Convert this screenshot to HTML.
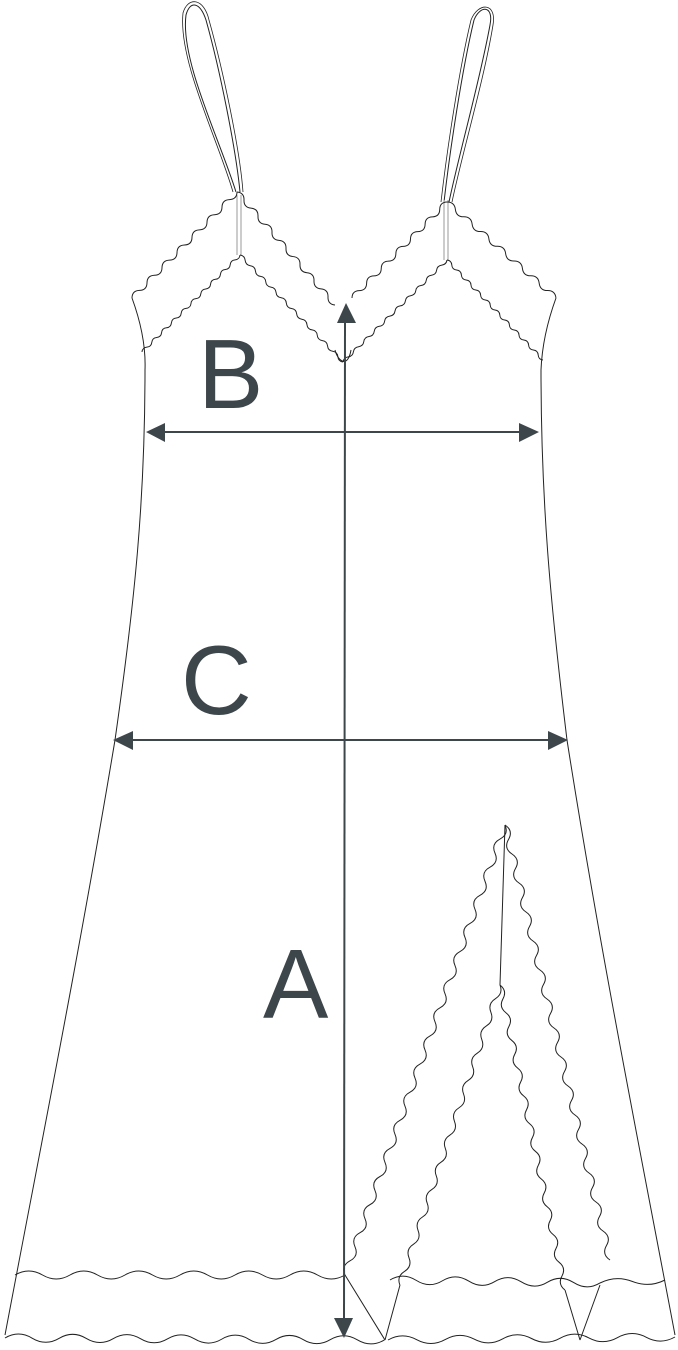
<!DOCTYPE html>
<html><head><meta charset="utf-8"><style>html,body{margin:0;padding:0;background:#fff}svg{display:block}</style></head>
<body>
<svg width="678" height="1350" viewBox="0 0 678 1350" xmlns="http://www.w3.org/2000/svg">
<g fill="none" stroke="#222" stroke-width="1">
<path d="M236,192 C220,140 180,60 186,15 C190,0 200,2 206,20 C220,70 236,150 240,192" />
<path d="M233,192 C218,140 178,60 183,13 C188,-4 204,-2 209,20 C223,70 240,150 243,192" stroke-width="0.8"/>
<path d="M449,202 C460,150 480,80 490,25 C494,5 480,5 474,20 C462,70 450,150 444,202" />
<path d="M452,202 C463,150 484,80 493,25 C497,2 478,2 471,20 C459,70 447,150 441,202" stroke-width="0.8"/>
<line x1="237" y1="195" x2="237" y2="255" stroke="#999"/><line x1="241" y1="195" x2="241" y2="255" stroke="#999"/>
<line x1="444" y1="200" x2="444" y2="260" stroke="#999"/><line x1="448" y1="200" x2="448" y2="260" stroke="#999"/>
<path d="M132,298 C140,320 146,345 145,370 C145,500 135,600 115,740 C80,950 40,1150 5,1335"/>
<path d="M556,298 C548,320 542,345 541,370 C541,500 550,600 567,740 C600,950 640,1150 675,1335"/>
<path d="M345,1275 L385,1340 M600,1285 L580,1340 M400,1285 L385,1340 M565,1290 L580,1340"/>
<path d="M505,825 L500,985"/>
<path d="M335,350 C338,362 348,368 351,350" />
<!-- scallops -->
<path d="M132,298 q0.15,-7.3 7.5,-7.57 t7.5,-7.57 t7.5,-7.57 t7.5,-7.57 t7.5,-7.57 t7.5,-7.57 t7.5,-7.57 t7.5,-7.57 t7.5,-7.57 t7.5,-7.57 t7.5,-7.57 t7.5,-7.57 t7.5,-7.57 t7.5,-7.57"/>
<path d="M237,192 q7.3,0.73 7,8.07 t7,8.07 t7,8.07 t7,8.07 t7,8.07 t7,8.07 t7,8.07 t7,8.07 t7,8.07 t7,8.07 t7,8.07 t7,8.07 t7,8.07 t7,8.07"/>
<path d="M352,298 q0.15,-7.2 7.31,-7.38 t7.31,-7.38 t7.31,-7.38 t7.31,-7.38 t7.31,-7.38 t7.31,-7.38 t7.31,-7.38 t7.31,-7.38 t7.31,-7.38 t7.31,-7.38 t7.31,-7.38 t7.31,-7.38 t7.31,-7.38"/>
<path d="M447,202 q7.5,-0.06 8.38,7.38 t8.38,7.38 t8.38,7.38 t8.38,7.38 t8.38,7.38 t8.38,7.38 t8.38,7.38 t8.38,7.38 t8.38,7.38 t8.38,7.38 t8.38,7.38 t8.38,7.38 t8.38,7.38"/>
<path d="M142,352 q0.45,-4.4 4.9,-4.85 t4.9,-4.85 t4.9,-4.85 t4.9,-4.85 t4.9,-4.85 t4.9,-4.85 t4.9,-4.85 t4.9,-4.85 t4.9,-4.85 t4.9,-4.85 t4.9,-4.85 t4.9,-4.85 t4.9,-4.85 t4.9,-4.85 t4.9,-4.85 t4.9,-4.85 t4.9,-4.85 t4.9,-4.85 t4.9,-4.85 t4.9,-4.85"/>
<path d="M240,255 q4.7,0.7 5.15,5.35 t5.15,5.35 t5.15,5.35 t5.15,5.35 t5.15,5.35 t5.15,5.35 t5.15,5.35 t5.15,5.35 t5.15,5.35 t5.15,5.35 t5.15,5.35 t5.15,5.35 t5.15,5.35 t5.15,5.35 t5.15,5.35 t5.15,5.35 t5.15,5.35 t5.15,5.35 t5.15,5.35 t5.15,5.35"/>
<path d="M343,362 q0.6,-4.5 5.2,-5.1 t5.2,-5.1 t5.2,-5.1 t5.2,-5.1 t5.2,-5.1 t5.2,-5.1 t5.2,-5.1 t5.2,-5.1 t5.2,-5.1 t5.2,-5.1 t5.2,-5.1 t5.2,-5.1 t5.2,-5.1 t5.2,-5.1 t5.2,-5.1 t5.2,-5.1 t5.2,-5.1 t5.2,-5.1 t5.2,-5.1 t5.2,-5.1"/>
<path d="M447,260 q4.5,0.5 4.8,5 t4.8,5 t4.8,5 t4.8,5 t4.8,5 t4.8,5 t4.8,5 t4.8,5 t4.8,5 t4.8,5 t4.8,5 t4.8,5 t4.8,5 t4.8,5 t4.8,5 t4.8,5 t4.8,5 t4.8,5 t4.8,5 t4.8,5"/>
<path d="M15,1275 q13.75,-8 27.5,0 t27.5,0 t27.5,0 t27.5,0 t27.5,0 t27.5,0 t27.5,0 t27.5,0 t27.5,0 t27.5,0 t27.5,0 t27.5,0"/>
<path d="M5,1338 q13.5,-8 27.1,0.14 t27.1,0.14 t27.1,0.14 t27.1,0.14 t27.1,0.14 t27.1,0.14 t27.1,0.14 t27.1,0.14 t27.1,0.14 t27.1,0.14 t27.1,0.14 t27.1,0.14 t27.1,0.14 t27.1,0.14"/>
<path d="M388,1340 q14.3,-8 28.7,-0.3 t28.7,-0.3 t28.7,-0.3 t28.7,-0.3 t28.7,-0.3 t28.7,-0.3 t28.7,-0.3 t28.7,-0.3 t28.7,-0.3 t28.7,-0.3"/>
<path d="M390,1280 q13,-8 26.25,0.37 t26.25,0.37 t26.25,0.37 t26.25,0.37 t26.25,0.37 t26.25,0.37 t26.25,0.37 t26.25,0.37"/>
<path d="M600,1283 q16,-8 32.5,-1.5 t32.5,-1.5"/>
<path d="M505,825 q4.1,9.3 -5,14.06 t-5,14.06 t-5,14.06 t-5,14.06 t-5,14.06 t-5,14.06 t-5,14.06 t-5,14.06 t-5,14.06 t-5,14.06 t-5,14.06 t-5,14.06 t-5,14.06 t-5,14.06 t-5,14.06 t-5,14.06 t-5,14.06 t-5,14.06 t-5,14.06 t-5,14.06 t-5,14.06 t-5,14.06 t-5,14.06 t-5,14.06 t-5,14.06 t-5,14.06 t-5,14.06 t-5,14.06 t-5,14.06 t-5,14.06 t-5,14.06 t-5,14.06"/>
<path d="M505,825 q8.55,5.65 3.5,14.5 t3.5,14.5 t3.5,14.5 t3.5,14.5 t3.5,14.5 t3.5,14.5 t3.5,14.5 t3.5,14.5 t3.5,14.5 t3.5,14.5 t3.5,14.5 t3.5,14.5 t3.5,14.5 t3.5,14.5 t3.5,14.5 t3.5,14.5 t3.5,14.5 t3.5,14.5 t3.5,14.5 t3.5,14.5 t3.5,14.5 t3.5,14.5 t3.5,14.5 t3.5,14.5 t3.5,14.5 t3.5,14.5 t3.5,14.5 t3.5,14.5 t3.5,14.5 t3.5,14.5"/>
<path d="M500,985 q3.4,8.7 -4.55,13.64 t-4.55,13.64 t-4.55,13.64 t-4.55,13.64 t-4.55,13.64 t-4.55,13.64 t-4.55,13.64 t-4.55,13.64 t-4.55,13.64 t-4.55,13.64 t-4.55,13.64 t-4.55,13.64 t-4.55,13.64 t-4.55,13.64 t-4.55,13.64 t-4.55,13.64 t-4.55,13.64 t-4.55,13.64 t-4.55,13.64 t-4.55,13.64 t-4.55,13.64 t-4.55,13.64"/>
<path d="M500,985 q7.4,5.7 2.95,13.86 t2.95,13.86 t2.95,13.86 t2.95,13.86 t2.95,13.86 t2.95,13.86 t2.95,13.86 t2.95,13.86 t2.95,13.86 t2.95,13.86 t2.95,13.86 t2.95,13.86 t2.95,13.86 t2.95,13.86 t2.95,13.86 t2.95,13.86 t2.95,13.86 t2.95,13.86 t2.95,13.86 t2.95,13.86 t2.95,13.86 t2.95,13.86"/>
</g>
<g fill="#3d464b" stroke="#3d464b">
<line x1="345" y1="320" x2="344" y2="1322" stroke-width="2"/>
<polygon points="346,303 337,323 356,323" stroke="none"/>
<polygon points="344,1338 334,1318 353,1318" stroke="none"/>
<line x1="162" y1="432" x2="522" y2="432" stroke-width="2"/>
<polygon points="146,432 165,423 165,442" stroke="none"/>
<polygon points="539,432 519,423 519,442" stroke="none"/>
<line x1="130" y1="740" x2="552" y2="740" stroke-width="2"/>
<polygon points="113,740 133,731 133,750" stroke="none"/>
<polygon points="568,740 548,731 548,750" stroke="none"/>
<g stroke="none" font-family="Liberation Sans, sans-serif" font-size="98">
<text x="198" y="408">B</text>
<text x="181" y="714">C</text>
<text x="263" y="1018">A</text>
</g>
</g>
</svg>
</body></html>
